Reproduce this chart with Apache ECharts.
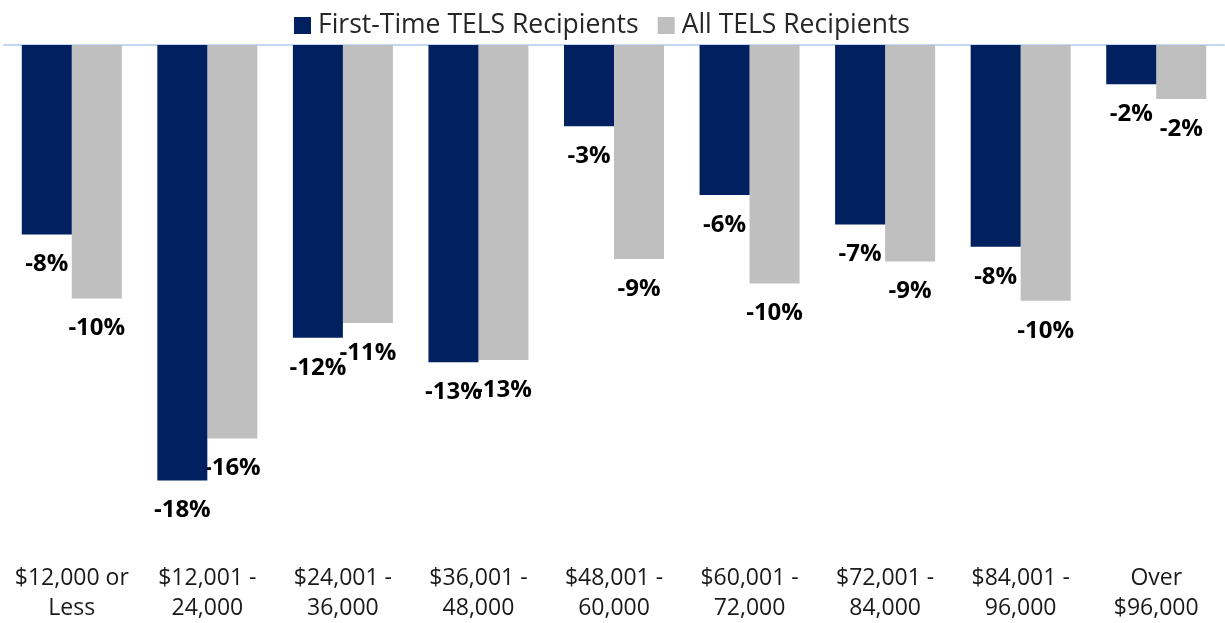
<!DOCTYPE html>
<html>
<head>
<meta charset="utf-8">
<script src="https://cdn.jsdelivr.net/npm/echarts@6/dist/echarts.min.js"></script>
<style>
  html, body { margin: 0; padding: 0; background: #fff; }
  #chart { width: 1225px; height: 623px; }
</style>
</head>
<body>
<div id="chart"></div>
<script>
const categories = [
  '$12,000 or\nLess', '$12,001 -\n24,000', '$24,001 -\n36,000', '$36,001 -\n48,000',
  '$48,001 -\n60,000', '$60,001 -\n72,000', '$72,001 -\n84,000', '$84,001 -\n96,000',
  'Over\n$96,000'
];
// percent change
const firstTime = [-7.7, -17.7, -11.9, -12.9, -3.3, -6.1, -7.3, -8.2, -1.6];
const allRecipients = [-10.3, -16.0, -11.3, -12.8, -8.7, -9.7, -8.8, -10.4, -2.2];

const chart = echarts.init(document.getElementById('chart'));

const labelStyle = {
  show: true,
  position: 'bottom',
  distance: 18,
  fontFamily: 'Open Sans',
  fontWeight: 'bold',
  fontSize: 24,
  color: '#000',
  formatter: p => Math.round(p.value) + '%'
};

chart.setOption({
  animation: false,
  textStyle: { fontFamily: 'Open Sans' },
  legend: {
    top: 7,
    left: 289,
    itemWidth: 17,
    itemHeight: 17,
    itemGap: 19,
    icon: 'rect',
    textStyle: { fontSize: 26.5, color: '#262626', padding: [0, 0, 5, 2] },
    data: ['First-Time TELS Recipients', 'All TELS Recipients']
  },
  grid: { left: 4, right: 1, top: 45, bottom: 86, containLabel: false },
  xAxis: [
    {
      type: 'category',
      data: categories,
      position: 'bottom',
      axisLine: { show: false, onZero: false },
      axisTick: { show: false },
      axisLabel: {
        margin: 26,
        fontSize: 23,
        lineHeight: 30,
        color: '#1a1a1a',
        interval: 0
      }
    },
    {
      type: 'category',
      data: categories,
      position: 'top',
      axisLine: { show: true, onZero: false, lineStyle: { color: '#C3D6F3', width: 2 } },
      axisTick: { show: false },
      axisLabel: { show: false }
    }
  ],
  yAxis: {
    type: 'value',
    min: -20,
    max: 0,
    show: false,
    splitLine: { show: false }
  },
  series: [
    {
      name: 'First-Time TELS Recipients',
      type: 'bar',
      data: firstTime,
      barWidth: 50,
      barGap: '0%',
      itemStyle: { color: '#002060' },
      label: labelStyle,
      z: 3
    },
    {
      name: 'All TELS Recipients',
      type: 'bar',
      data: allRecipients,
      barWidth: 50,
      barGap: '0%',
      itemStyle: { color: '#BFBFBF' },
      label: labelStyle,
      z: 2
    }
  ]
});
</script>
</body>
</html>
